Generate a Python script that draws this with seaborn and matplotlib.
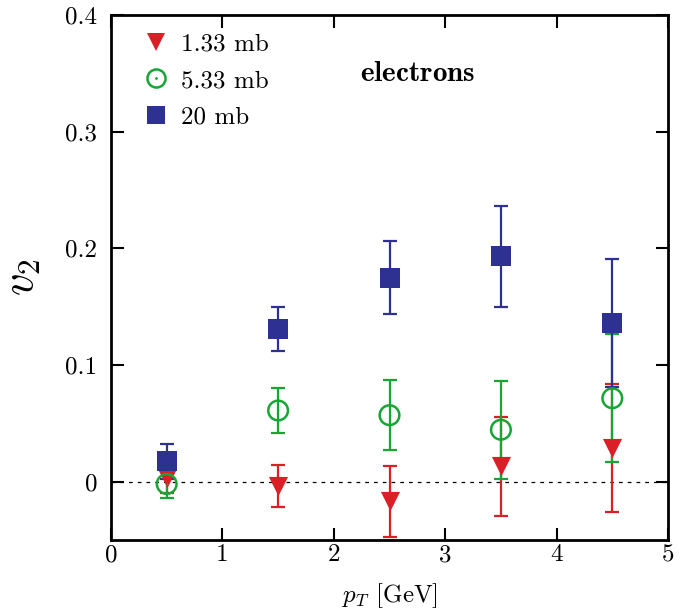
import matplotlib
matplotlib.use("Agg")
import matplotlib.pyplot as plt
import seaborn as sns
import numpy as np
import pandas as pd
from matplotlib.legend_handler import HandlerTuple
from matplotlib.lines import Line2D

sns.set_style("white")
plt.rcParams['font.family'] = 'serif'
plt.rcParams['font.serif'] = ['cmr10']
plt.rcParams['mathtext.fontset'] = 'cm'
plt.rcParams['axes.formatter.use_mathtext'] = True
for k in ['text.color', 'axes.labelcolor', 'xtick.color', 'ytick.color']:
    plt.rcParams[k] = 'black'

pt = [0.5, 1.5, 2.5, 3.5, 4.5]
v2_133 = [0.003, -0.004, -0.017, 0.013, 0.029]
err_133 = [0.013, 0.018, 0.030, 0.042, 0.055]
v2_533 = [-0.002, 0.061, 0.057, 0.0445, 0.0715]
err_533 = [0.012, 0.019, 0.030, 0.042, 0.055]
v2_20 = [0.0175, 0.131, 0.175, 0.193, 0.136]
err_20 = [0.015, 0.019, 0.031, 0.043, 0.055]

labels = ['1.33 mb', '5.33 mb', '20 mb']
red, green, blue = '#DA1F26', '#16A634', '#2E3192'

fig = plt.figure(figsize=(6.86, 6.10), dpi=100)
ax = fig.add_axes([111/686, 1-540/610, 557/686, 525/610])

ax.axhline(0, color='black', lw=0.9, ls=(0, (3, 4)), zorder=1)

# error bars
for y, e, c in [(v2_133, err_133, red), (v2_533, err_533, green), (v2_20, err_20, blue)]:
    ax.errorbar(pt, y, yerr=e, fmt='none', ecolor=c, elinewidth=1.6, capsize=5, capthick=1.6, zorder=2)

df_r = pd.DataFrame({'pT': pt, 'v2': v2_133})
df_g = pd.DataFrame({'pT': pt, 'v2': v2_533})
df_b = pd.DataFrame({'pT': pt, 'v2': v2_20})

sns.scatterplot(data=df_r, x='pT', y='v2', marker='v', color=red, s=190, linewidth=0, ax=ax, zorder=3)
sns.scatterplot(data=df_g, x='pT', y='v2', marker='o', color=green, s=200, linewidth=1.8, ax=ax, zorder=4)
circ = ax.collections[-1]
circ.set_facecolor('none')
circ.set_edgecolor(green)
sns.scatterplot(data=df_g, x='pT', y='v2', marker='.', color=green, s=6, linewidth=0, ax=ax, zorder=4)
sns.scatterplot(data=df_b, x='pT', y='v2', marker='s', color=blue, s=200, linewidth=0, ax=ax, zorder=5)

ax.set_xlim(0, 5)
ax.set_ylim(-0.05, 0.4)
ax.set_xticks([0, 1, 2, 3, 4, 5])
ax.set_xticklabels(['0', '1', '2', '3', '4', '5'])
ax.set_yticks([0, 0.1, 0.2, 0.3, 0.4])
ax.set_yticklabels(['0', '0.1', '0.2', '0.3', '0.4'])
ax.tick_params(direction='in', length=9, width=1.5, top=True, right=True, left=True, bottom=True,
               labelsize=18, colors='black')
ax.tick_params(axis='x', pad=3)
ax.tick_params(axis='y', pad=10)
for sp in ax.spines.values():
    sp.set_linewidth(2)
    sp.set_color('black')

ax.set_xlabel(r'$p_T$ [GeV]', fontsize=18, va='center')
ax.xaxis.set_label_coords(0.5, (540 - 596) / 525)
ax.set_ylabel(r'$v_2$', fontsize=32, labelpad=16)

h_r = Line2D([], [], marker='v', color=red, ls='none', markersize=13, markeredgewidth=0)
h_g = Line2D([], [], marker='o', mfc='none', mec=green, ls='none', markersize=13, markeredgewidth=1.8)
h_gd = Line2D([], [], marker='.', color=green, ls='none', markersize=2)
h_b = Line2D([], [], marker='s', color=blue, ls='none', markersize=13, markeredgewidth=0)
leg = ax.legend([h_r, (h_g, h_gd), h_b], labels, loc='upper left', bbox_to_anchor=(0.012, 1.008),
                frameon=False, fontsize=18, handletextpad=0.35, labelspacing=0.55, handlelength=1.3,
                handler_map={tuple: HandlerTuple(ndivide=1)})

ax.text(0.551, 0.888, r'$\mathbf{electrons}$', transform=ax.transAxes, fontsize=21,
        ha='center', va='center')

fig.savefig('out.png', dpi=100)
